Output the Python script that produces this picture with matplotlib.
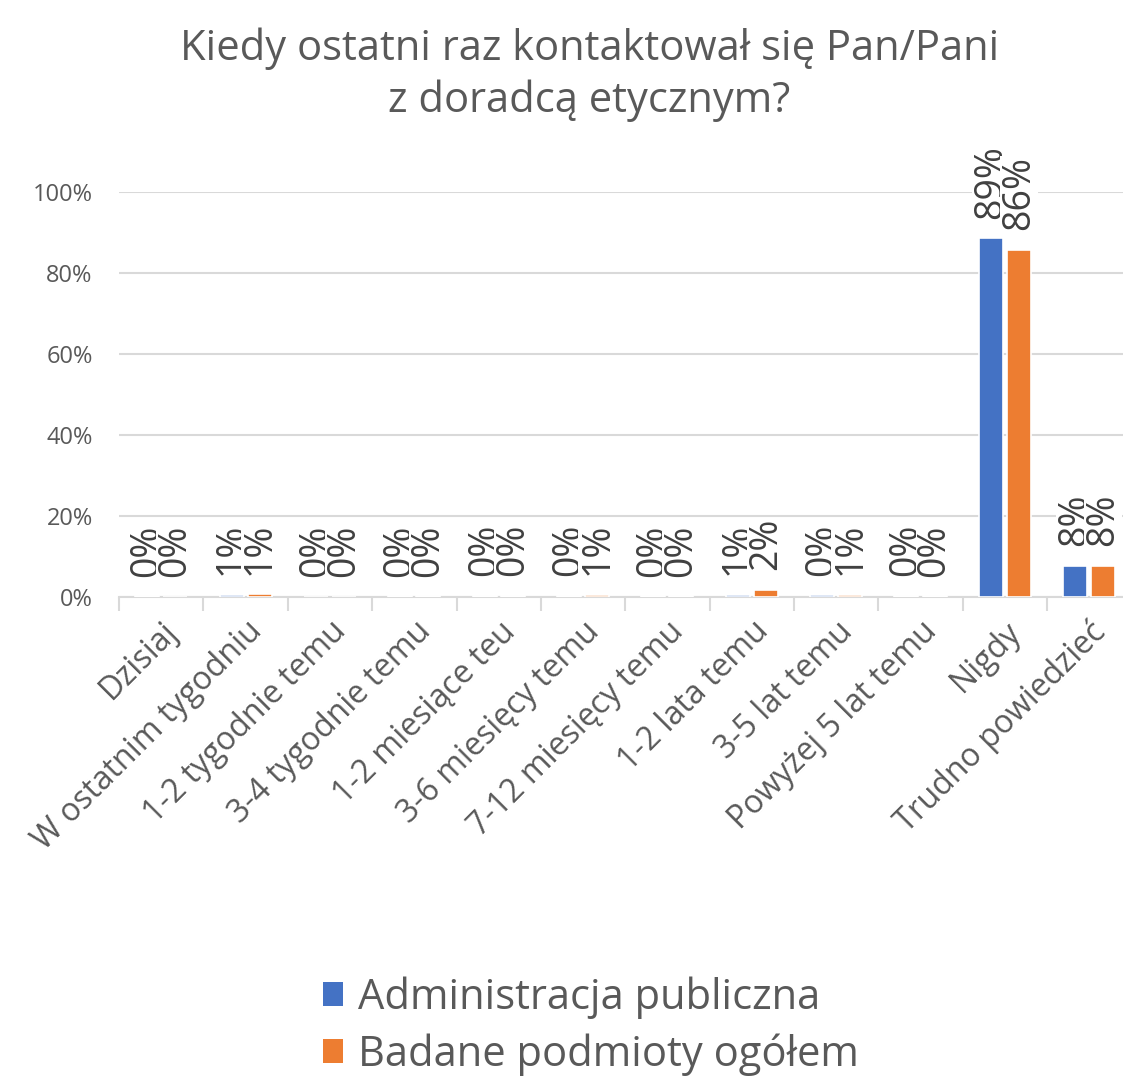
import matplotlib.pyplot as plt
from matplotlib.patches import Patch
import numpy as np

plt.rcParams['font.family'] = ['Open Sans', 'DejaVu Sans']

kategorie = ['Dzisiaj', 'W ostatnim tygodniu', '1-2 tygodnie temu', '3-4 tygodnie temu',
             '1-2 miesiące teu', '3-6 miesięcy temu', '7-12 miesięcy temu', '1-2 lata temu',
             '3-5 lat temu', 'Powyżej 5 lat temu', 'Nigdy', 'Trudno powiedzieć']
administracja = [0.2, 0.6, 0.1, 0.2, 0.3, 0.3, 0.2, 0.6, 0.4, 0.3, 88.6, 7.7]
ogolem = [0.1, 0.7, 0.1, 0.2, 0.3, 0.6, 0.2, 1.8, 0.6, 0.2, 85.7, 7.7]
serie = ['Administracja publiczna', 'Badane podmioty ogółem']
kolory = ['#4472C4', '#ED7D31']

tekst = '#404040'
szary = '#595959'
siatka = '#D9D9D9'

fig = plt.figure(figsize=(11.23, 10.89), dpi=100)
ax = fig.add_axes([0.106, 0.4518, 0.894, 0.3719])

x = np.arange(len(kategorie))
szer = 0.285
for i, (dane, kol) in enumerate(zip([administracja, ogolem], kolory)):
    pos = x + (i - 0.5) * 0.333
    ax.bar(pos, dane, width=szer, color=kol, edgecolor='white', linewidth=1.2, zorder=3)
    for px, v in zip(pos, dane):
        ax.annotate(f'{round(v)}%', (px, v), xytext=(0, 14), textcoords='offset points',
                    rotation=90, ha='center', va='bottom', fontsize=27, color=tekst,
                    annotation_clip=False, zorder=4,
                    bbox=dict(facecolor='white', edgecolor='none', pad=0))

ax.set_ylim(0, 100)
ax.set_xlim(-0.5, 11.4)
ax.set_yticks(range(0, 101, 20))
ax.set_yticklabels([f'{t}%' for t in range(0, 101, 20)], fontsize=17, color=szary)
ax.yaxis.grid(True, color=siatka, linewidth=1.5, zorder=0)
ax.set_axisbelow(True)
ax.tick_params(axis='y', length=0, pad=19)

ax.set_xticks(x)
ax.set_xticklabels(kategorie, rotation=45, ha='right', rotation_mode='anchor',
                   fontsize=23, color=szary)
ax.tick_params(axis='x', length=0, pad=13)
ax.set_xticks(np.arange(-0.5, 11.5, 1), minor=True)
ax.tick_params(axis='x', which='minor', length=10, color=siatka, width=1.5)

for s in ['top', 'right', 'left']:
    ax.spines[s].set_visible(False)
ax.spines['bottom'].set_color(siatka)
ax.spines['bottom'].set_linewidth(1.5)

fig.text(0.525, 0.975, 'Kiedy ostatni raz kontaktował się Pan/Pani\nz doradcą etycznym?',
         ha='center', va='top', fontsize=30, color=szary, linespacing=1.3)

uchwyty = [Patch(facecolor=k, edgecolor='none') for k in kolory]
fig.legend(uchwyty, serie, loc='center', bbox_to_anchor=(0.526, 0.058), ncol=1,
           frameon=False, fontsize=30, labelcolor=szary, handlelength=0.5,
           handleheight=0.5, handletextpad=0.35, labelspacing=0.35)

fig.savefig('out.png', dpi=100)
